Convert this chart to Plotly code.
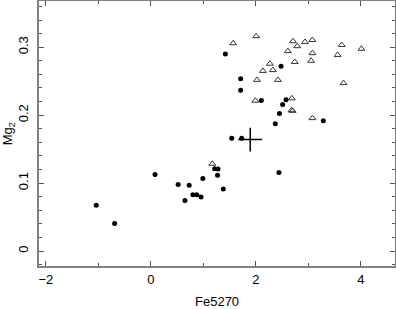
import plotly.graph_objects as go

# Filled dots
dot_fe = [-1.04, -0.69, 0.08, 0.52, 0.65, 0.73, 0.80, 0.875, 0.955, 0.99,
          1.215, 1.28, 1.27, 1.38, 2.44, 1.54, 1.73, 2.37, 2.45, 2.51,
          2.575, 2.105, 3.285, 1.71, 1.71, 1.42, 2.48]
dot_mg = [0.0675, 0.0407, 0.1126, 0.0979, 0.0744, 0.0969, 0.083, 0.083, 0.0797, 0.1066,
          0.1211, 0.1208, 0.1116, 0.0915, 0.1156, 0.166, 0.166, 0.1875, 0.2026, 0.2156,
          0.2228, 0.2217, 0.1916, 0.2537, 0.2367, 0.290, 0.2721]

# Open triangles
tri_fe = [1.17, 1.567, 2.006, 2.707, 2.935, 3.077, 3.636, 4.01, 2.609, 2.789,
          3.077, 3.556, 2.268, 2.74, 3.052, 2.135, 2.325, 2.02, 2.42, 3.67,
          1.99, 2.685, 2.68, 2.70, 3.077]
tri_mg = [0.1285, 0.3058, 0.3162, 0.3088, 0.3077, 0.3106, 0.3033, 0.2977, 0.2942, 0.3015,
          0.2912, 0.2886, 0.2757, 0.2783, 0.2801, 0.2651, 0.2663, 0.2519, 0.2519, 0.2472,
          0.2213, 0.2247, 0.2073, 0.2063, 0.1956]

# Cross marker (mean / reference point)
cross_fe = [1.893]
cross_mg = [0.164]

fig = go.Figure()
fig.add_trace(go.Scatter(x=dot_fe, y=dot_mg, mode="markers",
                         marker=dict(symbol="circle", size=5, color="black"),
                         showlegend=False))
fig.add_trace(go.Scatter(x=tri_fe, y=tri_mg, mode="markers",
                         marker=dict(symbol="triangle-up-open", size=6,
                                     color="#333", line=dict(width=1, color="#333")),
                         showlegend=False))
fig.add_trace(go.Scatter(x=cross_fe, y=cross_mg, mode="markers",
                         marker=dict(symbol="cross-thin", size=17, color="black",
                                     line=dict(width=1.5, color="black")),
                         showlegend=False))

FONT = "Liberation Sans, Arial, sans-serif"
axis_common = dict(showgrid=False, zeroline=False, showline=True, linewidth=2,
                   linecolor="#808080", mirror="allticks", ticks="inside",
                   tickcolor="#555", tickwidth=1, ticklen=5, automargin=False,
                   tickfont=dict(family=FONT, size=13, color="black"))

fig.update_layout(
    width=396, height=309,
    margin=dict(l=39, r=1, t=1, b=43),
    paper_bgcolor="white", plot_bgcolor="white",
    font=dict(family=FONT, size=13, color="black"),
    xaxis=dict(range=[-2.13, 4.65], tickvals=[-2, 0, 2, 4], ticktext=["\u22122", "0", "2", "4"],
               minor=dict(ticks="inside", ticklen=3, dtick=1, tick0=0, tickcolor="#555"),
               ticklabelstandoff=0,
               **axis_common),
    yaxis=dict(range=[-0.022, 0.368], tickvals=[0, 0.1, 0.2, 0.3], ticktext=["0", "0.1", "0.2", "0.3"],
               tickangle=-90, ticklabelstandoff=4,
               minor=dict(ticks="inside", ticklen=3, dtick=0.02, tick0=0, tickcolor="#555"),
               **axis_common),
    annotations=[
        dict(text="Fe5270", xref="paper", yref="paper", x=0.5, y=-0.133,
             xanchor="center", yanchor="middle", showarrow=False,
             font=dict(family=FONT, size=13, color="black")),
        dict(text="Mg<sub>2</sub>", xref="paper", yref="paper", x=-0.085, y=0.5,
             xanchor="center", yanchor="middle", showarrow=False, textangle=-90,
             font=dict(family=FONT, size=13, color="black")),
    ],
)

fig.write_html("out.html", config={"displayModeBar": False},
               post_script="document.body.style.margin='0';document.body.style.padding='0';")
